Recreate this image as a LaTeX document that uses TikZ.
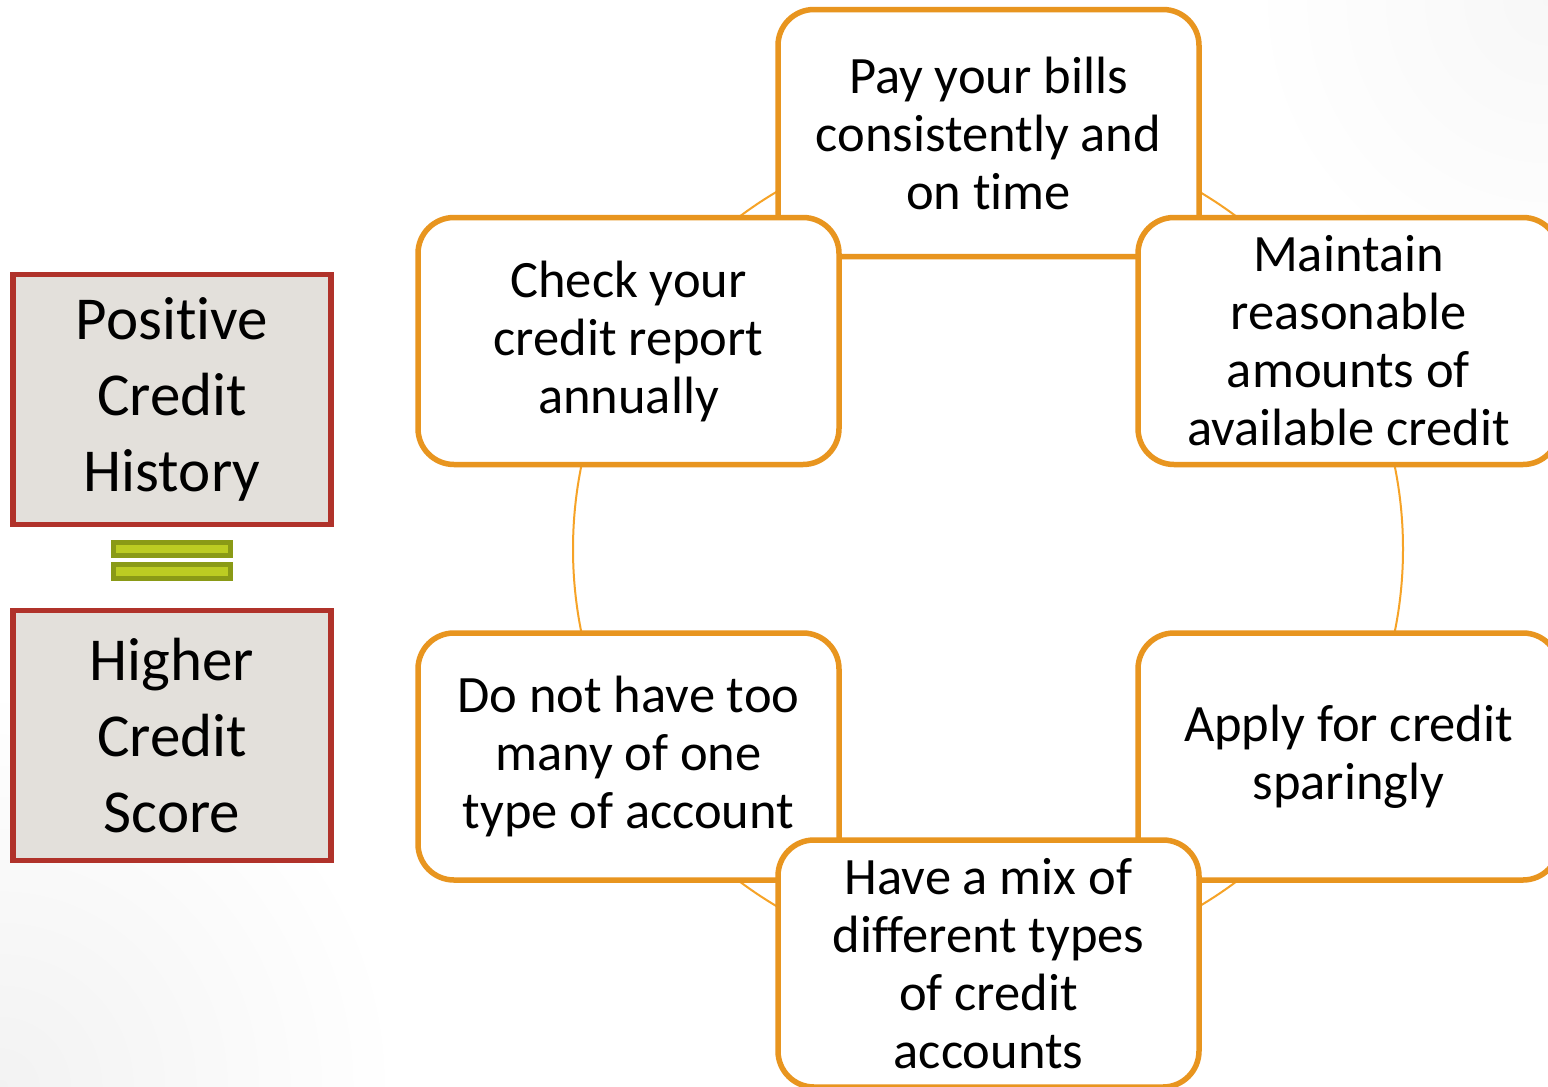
\documentclass[tikz,border=0pt]{standalone}
\usepackage{fontspec}
\setmainfont[Ligatures=NoCommon]{Carlito}
\definecolor{boxorange}{HTML}{E8951F}
\definecolor{ringorange}{HTML}{F6A327}
\definecolor{boxred}{HTML}{B0322A}
\definecolor{boxgray}{HTML}{E3E0DB}
\definecolor{eqdark}{HTML}{8A9A16}
\definecolor{eqlight}{HTML}{BCCC22}
\tikzset{
  stepbox/.style={draw=boxorange, line width=5.5pt, fill=white, rounded corners=36pt,
    minimum width=421pt, minimum height=247pt, inner sep=0pt, align=center,
    text width=412pt, font=\fontsize{52.5}{58}\selectfont,
    execute at begin node={\spaceskip=11.8pt\relax}},
  sidebox/.style={draw=boxred, line width=5.5pt, fill=boxgray,
    minimum width=318pt, minimum height=250pt, inner sep=0pt, align=center,
    text width=310pt, font=\fontsize{61}{76}\selectfont},
  eqbar/.style={draw=eqdark, fill=eqlight, line width=5pt},
  ring/.style={draw=ringorange, line width=2pt}
}
\begin{document}
\begin{tikzpicture}[x=1pt,y=-1pt]
\useasboundingbox (0,0) rectangle (1548,1087);
\begin{scope}
\clip (0,0) rectangle (1548,1087);
\fill[white] (0,0) rectangle (1548,1087);
\shade[inner color=black!5, outer color=white] (0,1087) circle[radius=400];
\shade[inner color=black!3, outer color=white] (1548,0) circle[radius=300];

% ring behind the steps
\coordinate (ringc) at (988,549);
\draw[ring] (ringc) circle[radius=415];

% six steps
\node[stepbox] (top) at (988.5,133) {Pay your bills\\consistently and\\on time};
\node[stepbox] (tl)  at (628.5,341) {Check your\\credit report\\annually};
\node[stepbox] (tr)  at (1348.5,341) {Maintain\\reasonable\\amounts of\\available credit};
\node[stepbox] (bl)  at (628.5,756.5) {Do not have too\\many of one\\type of account};
\node[stepbox] (br)  at (1348.5,756.5) {Apply for credit\\sparingly};
\node[stepbox] (bot) at (988.5,963.5) {Have a mix of\\different types\\of credit\\accounts};

% left side
\node[sidebox] (pos)  at (172,399.5) {Positive\\Credit\\History};
\node[sidebox] (high) at (172,735.5) {Higher\\Credit\\Score};
\node[eqbar, minimum width=117pt, minimum height=13pt, inner sep=0pt] (eq1) at (172,549) {};
\node[eqbar, minimum width=117pt, minimum height=14pt, inner sep=0pt] (eq2) at (172,571.5) {};
\end{scope}
\end{tikzpicture}
\end{document}
